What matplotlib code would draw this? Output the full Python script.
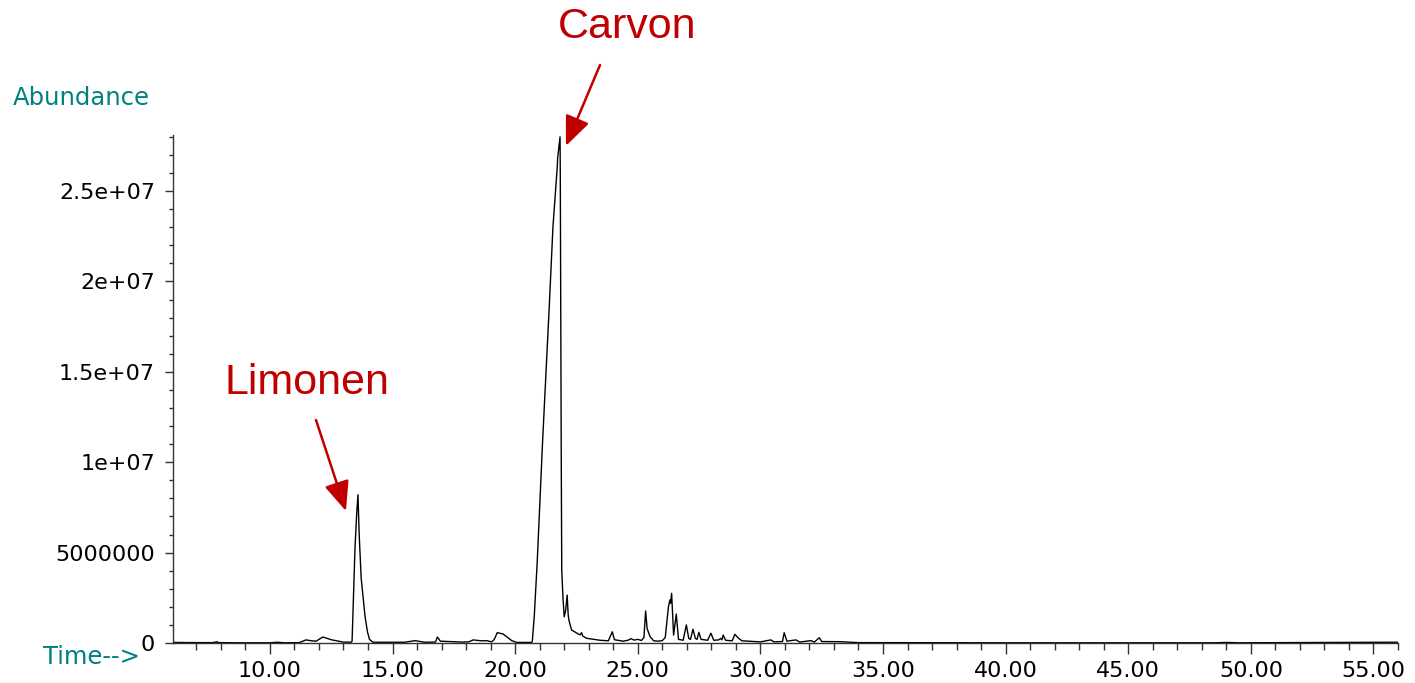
import matplotlib
matplotlib.use("Agg")
import matplotlib.pyplot as plt
from matplotlib.ticker import MultipleLocator

# Retention time (min) and abundance
time = [6.05, 7.0, 7.7, 7.75, 7.8, 7.85, 7.9, 8.5, 10.0, 10.3, 10.6, 11.2,
        11.47, 11.7, 11.88, 12.16, 12.5, 12.98, 13.30, 13.35, 13.47, 13.54,
        13.59, 13.64, 13.72, 13.80, 13.88, 13.98, 14.06, 14.2, 15.5, 15.92,
        16.3, 16.75, 16.83, 16.95, 17.3, 17.8, 18.1, 18.29, 18.6, 18.84, 19.04,
        19.15, 19.27, 19.5, 19.7, 19.86, 20.06, 20.67, 20.70, 20.78, 20.9,
        21.05, 21.12, 21.39, 21.53, 21.54, 21.72, 21.73, 21.83, 21.84, 21.88,
        21.90, 21.95, 22.00, 22.06, 22.12, 22.16, 22.19, 22.30, 22.57, 22.65,
        22.71, 22.76, 22.91, 23.46, 23.8, 23.96, 24.05, 24.4, 24.6, 24.72,
        24.85, 25.0, 25.15, 25.25, 25.32, 25.38, 25.5, 25.65, 25.85, 26.0,
        26.12, 26.25, 26.31, 26.34, 26.38, 26.46, 26.57, 26.66, 26.85, 26.98,
        27.08, 27.15, 27.25, 27.35, 27.42, 27.49, 27.58, 27.85, 27.98, 28.1,
        28.3, 28.38, 28.43, 28.48, 28.58, 28.85, 28.96, 29.1, 29.25, 29.5,
        30.0, 30.43, 30.55, 30.9, 30.97, 31.08, 31.45, 31.6, 32.06, 32.2,
        32.4, 32.5, 33.24, 34.0, 40.0, 48.5, 49.0, 49.5, 53.0, 55.5, 56.0]
abundance = [30000, 20000, 20000, 60000, 20000, 70000, 20000, 10000, 10000,
             40000, 10000, 20000, 170000, 120000, 100000, 330000, 180000,
             50000, 40000, 100000, 5.3e6, 7.2e6, 8.2e6, 6.0e6, 3.6e6, 2.5e6,
             1.45e6, 6e5, 2e5, 40000, 40000, 130000, 40000, 50000, 330000,
             100000, 80000, 50000, 60000, 170000, 120000, 130000, 60000,
             200000, 570000, 500000, 300000, 130000, 30000, 30000, 100000,
             1.5e6, 4.5e6, 9.0e6, 1.12e7, 1.86e7, 2.26e7, 2.30e7, 2.64e7,
             2.68e7, 2.80e7, 2.6e7, 1.0e7, 4.0e6, 2.5e6, 1.45e6, 1.8e6,
             2.65e6, 1.6e6, 1.27e6, 7.2e5, 5e5, 4.5e5, 5.7e5, 3.8e5, 2.6e5,
             1.5e5, 1.2e5, 6.2e5, 1.8e5, 1.0e5, 1.5e5, 2.4e5, 1.6e5, 2.0e5,
             1.4e5, 3e5, 1.77e6, 8e5, 3.5e5, 1.2e5, 1.0e5, 1.3e5, 3e5, 2.0e6,
             2.38e6, 2.2e6, 2.75e6, 4.4e5, 1.6e6, 2e5, 1.5e5, 1.0e6, 2.5e5,
             2.0e5, 7.6e5, 2.5e5, 2e5, 5.9e5, 2e5, 1.5e5, 5.4e5, 1.5e5, 1.7e5,
             2.5e5, 1.7e5, 4.4e5, 1.5e5, 1.2e5, 4.8e5, 2.7e5, 1.2e5, 1.0e5,
             6e4, 1.7e5, 6e4, 8e4, 5.7e5, 1e5, 1.7e5, 5e4, 1.3e5, 5e4, 2.9e5,
             8e4, 7e4, 20000, 10000, 10000, 30000, 10000, 30000, 40000, 40000]

xtick_values = [10, 15, 20, 25, 30, 35, 40, 45, 50, 55]
xtick_labels = ["10.00", "15.00", "20.00", "25.00", "30.00", "35.00",
                "40.00", "45.00", "50.00", "55.00"]
ytick_values = [0, 5e6, 1e7, 1.5e7, 2e7, 2.5e7]
ytick_labels = ["0", "5000000", "1e+07", "1.5e+07", "2e+07", "2.5e+07"]

peak_names = ["Limonen", "Carvon"]
peak_targets = [(13.10, 7.3e6), (22.07, 2.75e7)]

RED = "#C00000"
TEAL = "#008080"

fig = plt.figure(figsize=(14.15, 6.83), dpi=100)
ax = fig.add_axes([0.1223, 0.0586, 0.8657, 0.7437])

ax.plot(time, abundance, color="black", lw=1.0)
ax.set_xlim(6.05, 56.0)
ax.set_ylim(0, 2.81e7)

for s in ["top", "right"]:
    ax.spines[s].set_visible(False)
for s in ["left", "bottom"]:
    ax.spines[s].set_linewidth(1.0)
    ax.spines[s].set_color("#333333")

ax.set_xticks(xtick_values, xtick_labels)
ax.set_yticks(ytick_values, ytick_labels)
ax.xaxis.set_minor_locator(MultipleLocator(1))
ax.yaxis.set_minor_locator(MultipleLocator(1e6))
ax.tick_params(axis="x", which="major", length=8, width=1.0, pad=5,
               labelsize=16, color="#333333")
ax.tick_params(axis="x", which="minor", length=5, width=1.0, color="#333333")
ax.tick_params(axis="y", which="major", length=6, width=1.0, pad=7,
               labelsize=16, color="#333333")
ax.tick_params(axis="y", which="minor", length=3, width=1.0, color="#333333")
for lab in ax.get_xticklabels() + ax.get_yticklabels():
    lab.set_family("DejaVu Sans")

fig.text(13 / 1415, 1 - 98 / 683, "Abundance", color=TEAL, fontsize=17.5,
         family="DejaVu Sans", ha="left", va="center")
fig.text(43 / 1415, 1 - 657 / 683, "Time-->", color=TEAL, fontsize=17.5,
         family="DejaVu Sans", ha="left", va="center")

text_pos = [(307 / 1415, 1 - 383 / 683), (627 / 1415, 1 - 27 / 683)]
arrow_start = [(316 / 1415, 1 - 420 / 683), (600 / 1415, 1 - 65 / 683)]
for name, tgt, tp, st in zip(peak_names, peak_targets, text_pos, arrow_start):
    fig.text(tp[0], tp[1], name, color=RED, fontsize=31,
             family="Liberation Sans", ha="center", va="center")
    ax.annotate("", xy=tgt, xycoords="data", xytext=st,
                textcoords="figure fraction",
                arrowprops=dict(arrowstyle="-|>,head_length=1.3,head_width=0.55",
                                color=RED, lw=1.8, mutation_scale=14,
                                shrinkA=0, shrinkB=0),
                annotation_clip=False)

fig.savefig("out.png", dpi=100)
